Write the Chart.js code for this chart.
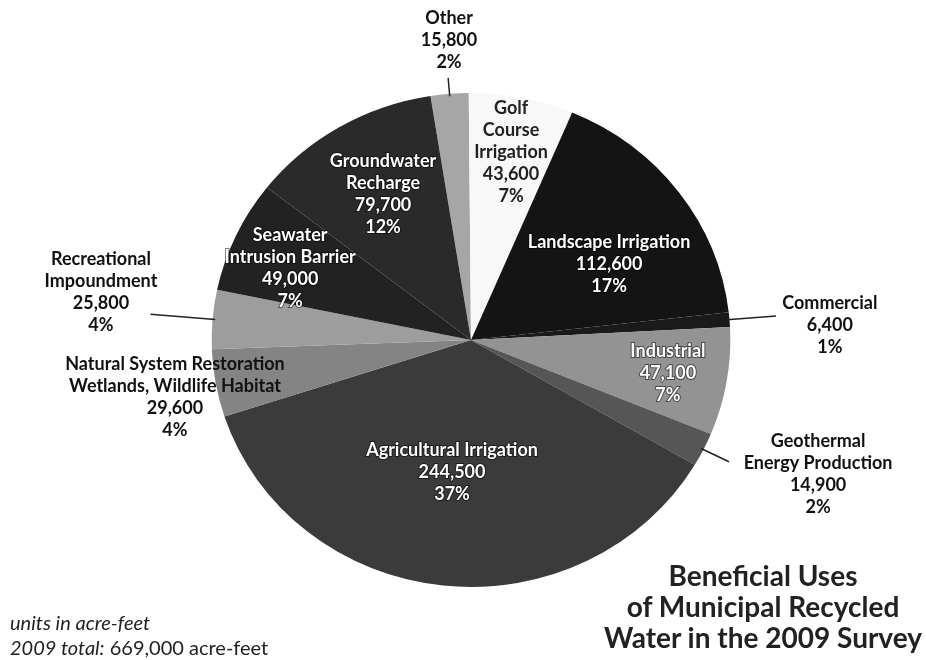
<!DOCTYPE html>
<html>
<head>
<meta charset="utf-8">
<script src="https://cdn.jsdelivr.net/npm/chart.js@4"></script>
<style>
  html, body { margin: 0; padding: 0; background: #fff; }
  #wrap { position: relative; width: 926px; height: 660px; }
  #usesChart { position: absolute; left: 0; top: 0; }
  .note { position: absolute; left: 10px; font-family: Lato, "Open Sans", sans-serif; font-size: 20px; line-height: 24px; color: #222; }
  .note i { font-style: italic; }
  #title { position: absolute; left: 603px; width: 320px; top: 560px; text-align: center;
           font-family: Lato, "Open Sans", sans-serif; font-weight: bold; font-size: 28px; line-height: 31px; color: #222; }
</style>
</head>
<body>
<div id="wrap">
  <canvas id="usesChart" width="926" height="660"></canvas>
  <div class="note" style="top:610px"><i>units in acre-feet</i></div>
  <div class="note" style="top:635px"><i>2009 total:</i> 669,000 acre-feet</div>
  <div id="title">Beneficial Uses<br>of Municipal Recycled<br>Water in the 2009 Survey</div>
</div>
<script>
// slices, clockwise from the top
const categories = ['Other', 'Golf Course Irrigation', 'Landscape Irrigation', 'Commercial', 'Industrial',
    'Geothermal Energy Production', 'Agricultural Irrigation', 'Natural System Restoration, Wetlands, Wildlife Habitat',
    'Recreational Impoundment', 'Seawater Intrusion Barrier', 'Groundwater Recharge'];
const labelLines = [['Other'], ['Golf', 'Course', 'Irrigation'], ['Landscape Irrigation'], ['Commercial'], ['Industrial'],
    ['Geothermal', 'Energy Production'], ['Agricultural Irrigation'], ['Natural System Restoration', 'Wetlands, Wildlife Habitat'],
    ['Recreational', 'Impoundment'], ['Seawater', 'Intrusion Barrier'], ['Groundwater', 'Recharge']];
const acreFeet = [15800, 43600, 112600, 6400, 47100, 14900, 244500, 29600, 25800, 49000, 79700];

const sliceColors = ['#a6a6a6', '#f8f8f8', '#141414', '#1a1a1a', '#939393', '#565656',
    '#3b3b3b', '#848484', '#9d9d9d', '#222222', '#2a2a2a'];

// label placement: [radius factor, angle shift in degrees, text colour, leader line end factor]
const placement = [
    [1.215, 0.75, '#111', 1.065],
    [0.777, 0.23, '#222', 0],
    [0.615, 6.7, '#fff', 0],
    [1.385, 2.2, '#111', 1.18],
    [0.771, 0.3, '#fff', 0],
    [1.445, -4.2, '#111', 1.11],
    [0.539, 1.65, '#fff', 0],
    [1.165, -1.43, '#111', 0],
    [1.44, 2.96, '#111', 1.24],
    [0.756, -2.23, '#fff', 0],
    [0.681, 0.58, '#fff', 0]
];

// the pie in the picture is a little wider than tall
const stretchX = 1.05;
const total = acreFeet.reduce((s, v) => s + v, 0);

const widenPie = {
    id: 'widenPie',
    beforeDatasetsDraw(chart) {
        const arc = chart.getDatasetMeta(0).data[0];
        const ctx = chart.ctx;
        ctx.save();
        ctx.translate(arc.x, arc.y);
        ctx.scale(stretchX, 1);
        ctx.translate(-arc.x, -arc.y);
    },
    afterDatasetsDraw(chart) {
        chart.ctx.restore();
    }
};

const sliceLabels = {
    id: 'sliceLabels',
    afterDraw(chart) {
        const ctx = chart.ctx;
        const arcs = chart.getDatasetMeta(0).data;
        ctx.save();
        ctx.textAlign = 'center';
        ctx.textBaseline = 'middle';
        ctx.font = 'bold 18px Lato, "Open Sans", sans-serif';
        arcs.forEach((arc, i) => {
            const [rf, shift, color, lineEnd] = placement[i];
            const mid = (arc.startAngle + arc.endAngle) / 2;
            const R = arc.outerRadius;
            const px = (a, f) => arc.x + Math.cos(a) * R * f * stretchX;
            const py = (a, f) => arc.y + Math.sin(a) * R * f;
            if (lineEnd) {
                ctx.strokeStyle = '#222';
                ctx.lineWidth = 1.5;
                ctx.beginPath();
                ctx.moveTo(px(mid, 0.99), py(mid, 0.99));
                ctx.lineTo(px(mid, lineEnd), py(mid, lineEnd));
                ctx.stroke();
            }
            const a = mid + shift * Math.PI / 180;
            const cx = px(a, rf);
            const cy = py(a, rf);
            const lines = labelLines[i].concat([
                acreFeet[i].toLocaleString('en-US'),
                Math.round(acreFeet[i] / total * 100) + '%'
            ]);
            const lh = 22;
            const top = cy - (lines.length - 1) * lh / 2;
            lines.forEach((t, k) => {
                if (color === '#fff') {
                    ctx.lineWidth = 2;
                    ctx.strokeStyle = 'rgba(0,0,0,0.5)';
                    ctx.strokeText(t, cx, top + k * lh);
                }
                ctx.fillStyle = color;
                ctx.fillText(t, cx, top + k * lh);
            });
        });
        ctx.restore();
    }
};

new Chart(document.getElementById('usesChart'), {
    type: 'pie',
    data: {
        labels: categories,
        datasets: [{
            data: acreFeet,
            backgroundColor: sliceColors,
            borderWidth: 0
        }]
    },
    options: {
        responsive: false,
        animation: false,
        rotation: -9,
        layout: { padding: { left: 216, right: 200, top: 93, bottom: 73 } },
        plugins: {
            legend: { display: false },
            tooltip: { enabled: false }
        }
    },
    plugins: [widenPie, sliceLabels]
});
</script>
</body>
</html>
